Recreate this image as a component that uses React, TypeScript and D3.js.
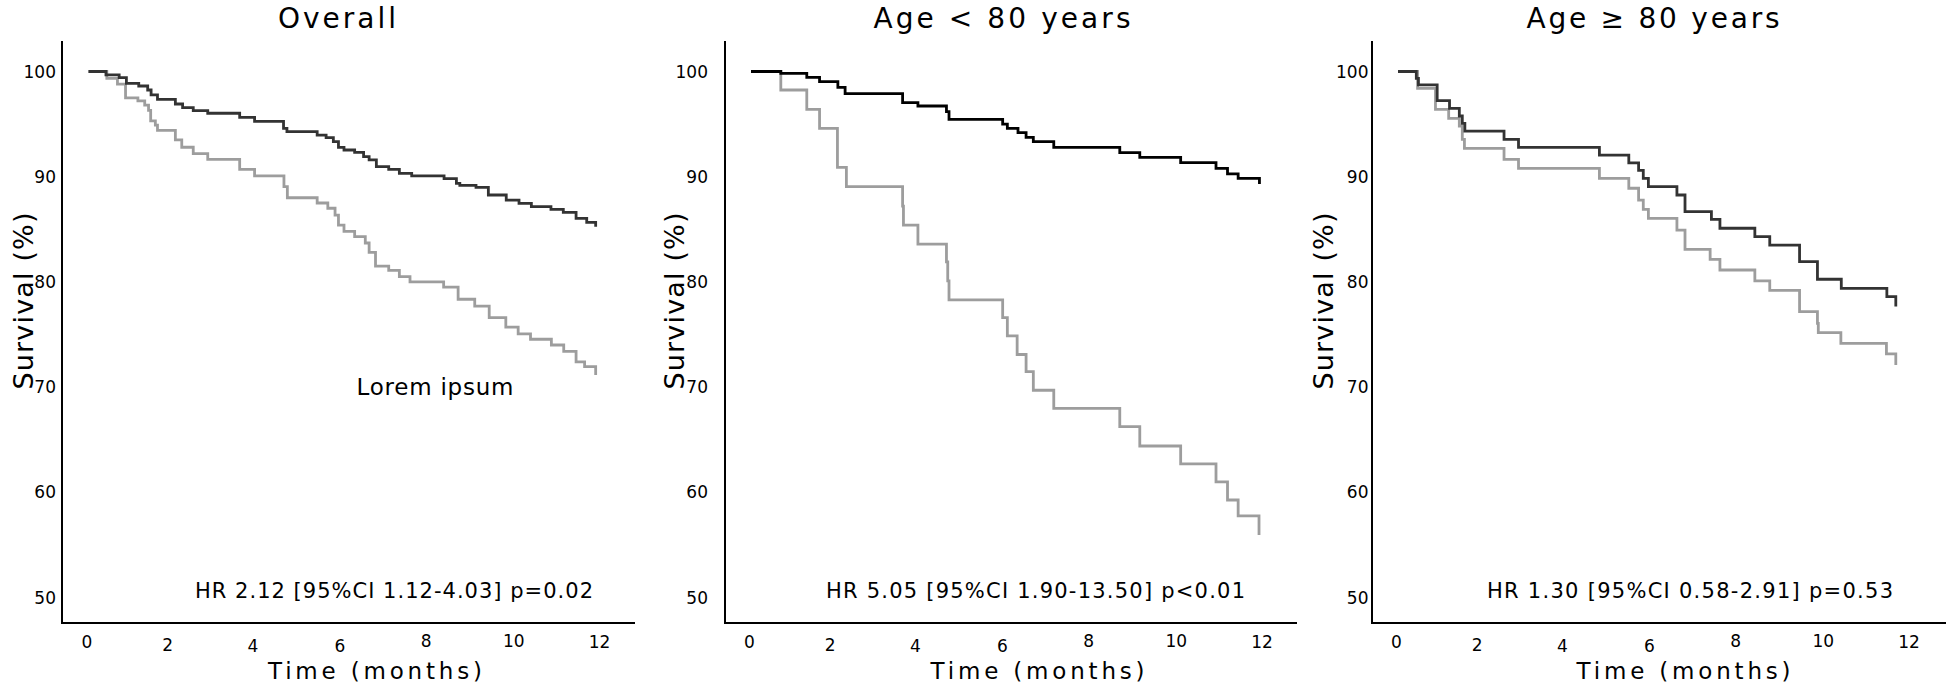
import React from "react";
import * as d3 from "d3";

// ---------- DATA ----------
const panelTitles = ["Overall", "Age < 80 years", "Age \u2265 80 years"];
const hrTexts = [
  "HR 2.12 [95%CI 1.12-4.03] p=0.02",
  "HR 5.05 [95%CI 1.90-13.50] p<0.01",
  "HR 1.30 [95%CI 0.58-2.91] p=0.53",
];
const xTicks = [0, 2, 4, 6, 8, 10, 12];
const yTicks = [50, 60, 70, 80, 90, 100];
const xAxisLabel = "Time (months)";
const yAxisLabel = "Survival (%)";
const annotation = "Lorem ipsum";

// [time (months), survival (%)]
const overallDark: [number, number][] = [
  [0, 100], [0.41, 99.67], [0.72, 99.41], [0.89, 98.88], [1.18, 98.62], [1.39, 98.24],
  [1.47, 97.77], [1.62, 97.35], [2.04, 96.91], [2.21, 96.56], [2.46, 96.28], [2.8, 96.03],
  [3.55, 95.64], [3.9, 95.26], [4.58, 94.6], [4.66, 94.28], [5.37, 93.96], [5.58, 93.71],
  [5.75, 93.33], [5.87, 92.79], [6.0, 92.54], [6.25, 92.32], [6.46, 91.91], [6.59, 91.59],
  [6.76, 90.95], [7.05, 90.7], [7.3, 90.32], [7.59, 90.07], [8.35, 89.81], [8.64, 89.37],
  [8.72, 89.18], [9.1, 88.99], [9.39, 88.26], [9.81, 87.78], [10.11, 87.47], [10.4, 87.15],
  [10.86, 86.9], [11.15, 86.61], [11.45, 86.04], [11.7, 85.66], [11.91, 85.25],
];
const overallGray: [number, number][] = [
  [0, 100], [0.43, 99.35], [0.68, 98.8], [0.87, 97.5], [1.16, 97.2], [1.32, 96.8],
  [1.41, 96.3], [1.46, 95.3], [1.57, 94.9], [1.62, 94.4], [2.04, 93.5], [2.19, 92.8],
  [2.46, 92.2], [2.8, 91.65], [3.55, 90.7], [3.9, 90.07], [4.59, 89.05], [4.67, 88.0],
  [5.37, 87.5], [5.62, 87.0], [5.79, 86.35], [5.87, 85.4], [6.0, 84.8], [6.25, 84.3],
  [6.5, 83.7], [6.59, 82.8], [6.74, 81.5], [7.05, 81.1], [7.3, 80.5], [7.55, 80.0],
  [8.34, 79.5], [8.68, 78.35], [9.07, 77.7], [9.41, 76.6], [9.8, 75.7], [10.09, 75.05],
  [10.38, 74.55], [10.87, 74.0], [11.16, 73.4], [11.45, 72.4], [11.65, 71.95], [11.91, 71.15],
];
const youngDark: [number, number][] = [
  [0, 100], [0.7, 99.83], [1.31, 99.45], [1.61, 99.03], [2.04, 98.5], [2.21, 97.9],
  [3.56, 97.04], [3.92, 96.72], [4.59, 96.18], [4.65, 95.45], [5.91, 95.0], [6.02, 94.6],
  [6.27, 94.19], [6.46, 93.74], [6.63, 93.33], [7.11, 92.79], [8.66, 92.28], [9.13, 91.84],
  [10.09, 91.33], [10.92, 90.8], [11.19, 90.26], [11.44, 89.84], [11.94, 89.3],
];
const youngGray: [number, number][] = [
  [0, 100], [0.7, 98.24], [1.31, 96.4], [1.61, 94.6], [2.03, 90.89], [2.24, 89.05],
  [3.56, 87.2], [3.58, 85.4], [3.92, 83.6], [4.59, 81.9], [4.62, 80.1], [4.65, 78.3],
  [5.91, 76.6], [6.02, 74.86], [6.25, 73.1], [6.46, 71.47], [6.63, 69.7], [7.11, 67.98],
  [8.66, 66.24], [9.13, 64.4], [10.09, 62.7], [10.92, 61.0], [11.19, 59.27], [11.44, 57.75],
  [11.93, 55.94],
];
const oldDark: [number, number][] = [
  [0, 100], [0.43, 99.35], [0.48, 98.72], [0.92, 97.23], [1.21, 96.5], [1.44, 95.77],
  [1.51, 95.07], [1.57, 94.34], [2.49, 93.55], [2.83, 92.79], [4.73, 92.06], [5.42, 91.32],
  [5.65, 90.6], [5.76, 89.84], [5.88, 89.05], [6.55, 88.26], [6.74, 86.68], [7.36, 85.95],
  [7.56, 85.1], [8.38, 84.3], [8.73, 83.5], [9.43, 81.92], [9.85, 80.25], [10.41, 79.39],
  [11.48, 78.6], [11.69, 77.65],
];
const oldGray: [number, number][] = [
  [0, 100], [0.46, 98.4], [0.88, 96.4], [1.19, 95.55], [1.44, 94.82], [1.51, 93.55],
  [1.56, 92.7], [2.49, 91.65], [2.83, 90.8], [4.73, 89.84], [5.42, 88.9], [5.65, 87.78],
  [5.76, 86.9], [5.88, 86.04], [6.55, 84.93], [6.74, 83.1], [7.33, 82.15], [7.56, 81.13],
  [8.38, 80.1], [8.73, 79.2], [9.43, 77.17], [9.85, 76.06], [9.87, 75.17], [10.4, 74.15],
  [11.47, 73.15], [11.69, 72.1],
];

const darkSeries = [overallDark, youngDark, oldDark];
const graySeries = [overallGray, youngGray, oldGray];

// ---------- LAYOUT / STYLE ----------
const W = 1946;
const H = 684;
const FONT = "'DejaVu Sans', Verdana, sans-serif";
const layouts = [
  { axisX: 62, t0: 88.5, axisEnd: 635, titleX: 337, titleW: 118, hrX: 394, hrW: 398, ylabX: 33, tickGap: 6, timeX: 375, dark: "#333333" },
  { axisX: 725, t0: 751, axisEnd: 1297, titleX: 1002, titleW: 257, hrX: 1035.5, hrW: 419, ylabX: 684, tickGap: 17, timeX: 1037.6, dark: "#000000" },
  { axisX: 1372, t0: 1398, axisEnd: 1946, titleX: 1653, titleW: 253, hrX: 1690, hrW: 406, ylabX: 1333, tickGap: 3.5, timeX: 1683.6, dark: "#333333" },
];
const tickNudgeX = [-1.5, -6, -6, -4, -3, -0.5, 0];
const tickNudgeY = [0, 3, 3.5, 4, -1, -1, 0];
const GRAY = "#9d9d9d";

const yScale = d3.scaleLinear().domain([50, 100]).range([597.5, 71.5]);
const AXIS_TOP = 41;
const AXIS_Y = 623;

function Panel({ i }: { i: number }) {
  const L = layouts[i];
  const x = d3.scaleLinear().domain([0, 12]).range([L.t0, L.t0 + 511]);
  const line = d3
    .line<[number, number]>()
    .x((d) => x(d[0]))
    .y((d) => yScale(d[1]))
    .curve(d3.curveStepAfter);
  return (
    <g>
      <text x={L.titleX} y={28} fontSize={28} textAnchor="middle" textLength={L.titleW} lengthAdjust="spacing" fontFamily={FONT}>
        {panelTitles[i]}
      </text>
      {/* axes */}
      <line x1={L.axisX} x2={L.axisX} y1={AXIS_TOP} y2={AXIS_Y + 1} stroke="#000" strokeWidth={2} />
      <line x1={L.axisX - 1} x2={L.axisEnd} y1={AXIS_Y} y2={AXIS_Y} stroke="#000" strokeWidth={2.2} />
      {yTicks.map((t) => (
        <text key={t} x={L.axisX - L.tickGap} y={yScale(t)} dy="0.36em" fontSize={17} textAnchor="end" fontFamily={FONT}>
          {t}
        </text>
      ))}
      {xTicks.map((t, k) => (
        <text key={t} x={x(t) + tickNudgeX[k]} y={648 + tickNudgeY[k]} fontSize={17} textAnchor="middle" fontFamily={FONT}>
          {t}
        </text>
      ))}
      <text x={L.timeX} y={678.5} fontSize={23} textAnchor="middle" textLength={214} lengthAdjust="spacing" fontFamily={FONT}>
        {xAxisLabel}
      </text>
      <text
        transform={`translate(${L.ylabX},301) rotate(-90)`}
        fontSize={27}
        textAnchor="middle"
        textLength={177}
        lengthAdjust="spacing"
        fontFamily={FONT}
      >
        {yAxisLabel}
      </text>
      {/* curves */}
      <path d={line(graySeries[i]) || ""} fill="none" stroke={GRAY} strokeWidth={2.8} />
      <path d={line(darkSeries[i]) || ""} fill="none" stroke={L.dark} strokeWidth={2.8} />
      <text x={L.hrX} y={598} fontSize={21} textAnchor="middle" textLength={L.hrW} lengthAdjust="spacing" fontFamily={FONT}>
        {hrTexts[i]}
      </text>
      {i === 0 && (
        <text x={435} y={395} fontSize={23} textAnchor="middle" textLength={157} lengthAdjust="spacing" fontFamily={FONT}>
          {annotation}
        </text>
      )}
    </g>
  );
}

export default function App() {
  return (
    <svg
      width={W}
      height={H}
      viewBox={`0 0 ${W} ${H}`}
      style={{ position: "absolute", left: 0, top: 0, background: "#fff" }}
    >
      <rect x={0} y={0} width={W} height={H} fill="#fff" />
      {[0, 1, 2].map((i) => (
        <Panel key={i} i={i} />
      ))}
    </svg>
  );
}
